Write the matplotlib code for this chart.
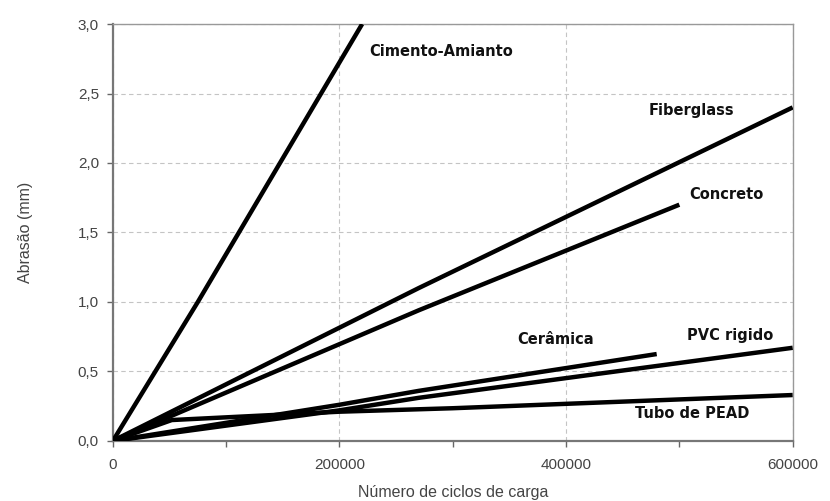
import matplotlib
matplotlib.use('Agg')
import matplotlib.pyplot as plt

# abrasão (mm) x número de ciclos de carga
CIMENTO_X = [0, 75000, 220000]
CIMENTO_Y = [0.0, 1.0, 3.0]
FIBER_X = [0, 270000, 600000]
FIBER_Y = [0.0, 1.10, 2.40]
CONCRETO_X = [0, 270000, 500000]
CONCRETO_Y = [0.0, 0.94, 1.70]
CERAMICA_X = [0, 200000, 270000, 480000]
CERAMICA_Y = [0.0, 0.26, 0.36, 0.625]
PVC_X = [0, 200000, 270000, 600000]
PVC_Y = [0.0, 0.22, 0.31, 0.67]
PEAD_X = [0, 52000, 200000, 300000, 600000]
PEAD_Y = [0.0, 0.15, 0.21, 0.235, 0.33]

LABELS = ['Cimento-Amianto', 'Fiberglass', 'Concreto', 'Cerâmica', 'PVC rigido', 'Tubo de PEAD']
LABEL_X = [226000, 473000, 509000, 357000, 507000, 461000]
LABEL_Y = [2.80, 2.38, 1.77, 0.73, 0.76, 0.20]

XTICKS = [0, 200000, 400000, 600000]
XTICK_LABELS = ['0', '200000', '400000', '600000']
YTICKS = [0.0, 0.5, 1.0, 1.5, 2.0, 2.5, 3.0]
YTICK_LABELS = ['0,0', '0,5', '1,0', '1,5', '2,0', '2,5', '3,0']

plt.rcParams['font.family'] = ['Liberation Sans', 'DejaVu Sans']

fig = plt.figure(figsize=(8.3, 5.01), dpi=100)
ax = fig.add_axes([0.136, 0.12, 0.819, 0.832])

series = [(CIMENTO_X, CIMENTO_Y), (FIBER_X, FIBER_Y), (CONCRETO_X, CONCRETO_Y),
          (CERAMICA_X, CERAMICA_Y), (PVC_X, PVC_Y), (PEAD_X, PEAD_Y)]
for xs, ys in series:
    ax.plot(xs, ys, color='black', linewidth=3.2, solid_capstyle='butt', zorder=3)

for lab, lx, ly in zip(LABELS, LABEL_X, LABEL_Y):
    ax.text(lx, ly, lab, fontsize=10.5, fontweight='bold', color='#111111',
            family='DejaVu Sans', ha='left', va='center', zorder=4)

ax.set_xlim(0, 600000)
ax.set_ylim(0, 3.0)
ax.set_xticks(XTICKS)
ax.set_xticklabels(XTICK_LABELS)
ax.set_xticks([100000, 300000, 500000], minor=True)
ax.set_yticks(YTICKS)
ax.set_yticklabels(YTICK_LABELS)
ax.tick_params(axis='both', which='both', direction='out', length=4, width=1,
               color='#666666', labelcolor='#444444', labelsize=11)
ax.tick_params(axis='x', pad=8)
ax.tick_params(axis='y', pad=6)

ax.grid(True, which='major', linestyle=(0, (4, 3)), color='#c4c4c4', linewidth=0.8)
ax.set_axisbelow(True)
for side in ['top', 'right']:
    ax.spines[side].set_color('#999999')
    ax.spines[side].set_linewidth(1.0)
for side in ['left', 'bottom']:
    ax.spines[side].set_color('#777777')
    ax.spines[side].set_linewidth(1.6)

ax.set_xlabel('Número de ciclos de carga', fontsize=11.5, color='#444444', labelpad=10)
ax.set_ylabel('Abrasão (mm)', fontsize=11.5, color='#444444', labelpad=32)

fig.savefig('out.png', dpi=100)
